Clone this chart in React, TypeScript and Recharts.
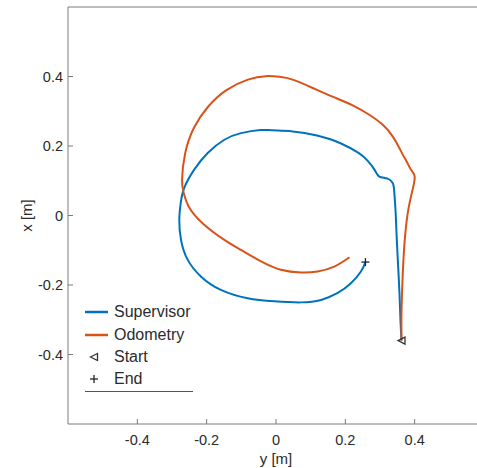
import React from "react";
import {
  ComposedChart,
  Line,
  Scatter,
  XAxis,
  YAxis,
  Legend,
  Label,
} from "recharts";

// horizontal axis is y [m], vertical axis is x [m]
const supervisorY = [
  0.362, 0.359, 0.356, 0.352, 0.348, 0.345, 0.341, 0.337, 0.322, 0.298, 0.284,
  0.262, 0.238, 0.186, 0.118, 0.048, -0.01, -0.045, -0.101, -0.149, -0.197,
  -0.236, -0.265, -0.275, -0.279, -0.274, -0.255, -0.216, -0.159, -0.082,
  -0.005, 0.072, 0.13, 0.178, 0.216, 0.245, 0.258,
];
const supervisorX = [
  -0.36, -0.3, -0.22, -0.14, -0.06, 0.01, 0.07, 0.093, 0.106, 0.112, 0.132,
  0.16, 0.18, 0.208, 0.23, 0.242, 0.245, 0.246, 0.237, 0.218, 0.18, 0.132,
  0.079, 0.035, -0.012, -0.07, -0.127, -0.176, -0.214, -0.238, -0.247, -0.25,
  -0.243, -0.223, -0.195, -0.161, -0.134,
];

const odometryY = [
  0.362, 0.362, 0.365, 0.37, 0.38, 0.394, 0.4, 0.39, 0.378, 0.367, 0.356, 0.337,
  0.308, 0.269, 0.221, 0.163, 0.106, 0.048, 0.01, -0.03, -0.081, -0.143, -0.196,
  -0.237, -0.262, -0.271, -0.266, -0.252, -0.212, -0.149, -0.101, -0.043, 0.014,
  0.072, 0.12, 0.168, 0.212,
];
const odometryX = [
  -0.36, -0.281, -0.185, -0.089, 0.007, 0.074, 0.112, 0.131, 0.153, 0.173, 0.194,
  0.227, 0.261, 0.29, 0.317, 0.342, 0.367, 0.391, 0.399, 0.401, 0.391, 0.361,
  0.313, 0.252, 0.179, 0.102, 0.064, 0.026, -0.022, -0.07, -0.099, -0.132,
  -0.156, -0.164, -0.161, -0.147, -0.12,
];

const startPoint = [{ h: 0.362, v: -0.36 }];
const endPoint = [{ h: 0.258, v: -0.134 }];

const ticks = [-0.4, -0.2, 0, 0.2, 0.4];
const legendNames = ["Supervisor", "Odometry", "Start", "End"];

const supervisor = supervisorY.map((h, i) => ({ h, v: supervisorX[i] }));
const odometry = odometryY.map((h, i) => ({ h, v: odometryX[i] }));

const BLUE = "#0072BD";
const ORANGE = "#D95319";
const AXIS = "#7a7a7a";
const TEXT = "#2b2b2b";
const FONT = '"Liberation Sans", Arial, sans-serif';

function BottomTick({ x, y, payload }: any) {
  return (
    <g>
      <line x1={x} x2={x} y1={y} y2={y - 5} stroke={AXIS} />
      <text x={x} y={y + 20.5} textAnchor="middle" fill={TEXT} fontSize={14.5} fontFamily={FONT}>
        {String(payload.value)}
      </text>
    </g>
  );
}

function TopTick({ x, y }: any) {
  return <line x1={x} x2={x} y1={y} y2={y + 5} stroke={AXIS} />;
}

function LeftTick({ x, y, payload }: any) {
  return (
    <g>
      <line x1={x} x2={x + 5} y1={y} y2={y} stroke={AXIS} />
      <text x={x - 5} y={y + 5} textAnchor="end" fill={TEXT} fontSize={14.5} fontFamily={FONT}>
        {String(payload.value)}
      </text>
    </g>
  );
}

function StartMarker({ cx, cy }: any) {
  return (
    <polygon
      points={`${cx - 3.5},${cy} ${cx + 3.5},${cy - 3.5} ${cx + 3.5},${cy + 3.5}`}
      fill="none"
      stroke="#333"
      strokeWidth={1.3}
    />
  );
}

function EndMarker({ cx, cy }: any) {
  return (
    <g stroke="#222" strokeWidth={1.3}>
      <line x1={cx - 4} x2={cx + 4} y1={cy} y2={cy} />
      <line x1={cx} x2={cx} y1={cy - 4} y2={cy + 4} />
    </g>
  );
}

function LegendBox() {
  const symbol = (name: string) => {
    if (name === "Supervisor" || name === "Odometry") {
      const c = name === "Supervisor" ? BLUE : ORANGE;
      return <line x1={0} x2={23} y1={11} y2={11} stroke={c} strokeWidth={2.5} />;
    }
    if (name === "Start") return <StartMarker cx={9} cy={11} />;
    return <EndMarker cx={9} cy={11} />;
  };
  return (
    <div style={{ width: 108, borderBottom: "1.5px solid #555", fontFamily: FONT }}>
      {legendNames.map((name) => (
        <div key={name} style={{ display: "flex", alignItems: "center", height: 22.4 }}>
          <svg width={29} height={22} style={{ flex: "none" }}>
            {symbol(name)}
          </svg>
          <span style={{ fontSize: 16, color: TEXT, lineHeight: "22px" }}>{name}</span>
        </div>
      ))}
    </div>
  );
}

export default function App() {
  return (
    <div
      style={{
        position: "absolute",
        left: 0,
        top: 0,
        width: 477,
        height: 468,
        overflow: "hidden",
        background: "#fff",
      }}
    >
      <ComposedChart
        width={500}
        height={468}
        margin={{ top: 6, right: 16, bottom: 43, left: 67 }}
      >
        <XAxis
          dataKey="h"
          type="number"
          domain={[-0.6, 0.6]}
          ticks={ticks}
          height={1}
          tickSize={0}
          tickMargin={0}
          tick={<BottomTick />}
          tickLine={false}
          axisLine={{ stroke: AXIS }}
          allowDataOverflow
          interval={0}
        >
          <Label
            content={({ viewBox }: any) => (
              <text
                x={viewBox.x + viewBox.width / 2}
                y={viewBox.y + 39.5}
                textAnchor="middle"
                fill={TEXT}
                fontSize={15}
                fontFamily={FONT}
              >
                y [m]
              </text>
            )}
          />
        </XAxis>
        <XAxis
          xAxisId="top"
          orientation="top"
          type="number"
          domain={[-0.6, 0.6]}
          ticks={ticks}
          height={1}
          tickSize={0}
          tickMargin={0}
          tick={<TopTick />}
          tickLine={false}
          axisLine={{ stroke: AXIS }}
          allowDataOverflow
          interval={0}
        />
        <YAxis
          dataKey="v"
          type="number"
          domain={[-0.6, 0.6]}
          ticks={ticks}
          width={1}
          tickSize={0}
          tickMargin={0}
          tick={<LeftTick />}
          tickLine={false}
          axisLine={{ stroke: AXIS }}
          allowDataOverflow
          interval={0}
        >
          <Label
            content={({ viewBox }: any) => {
              const cx = viewBox.x - 40.5;
              const cy = viewBox.y + viewBox.height / 2;
              return (
                <text
                  x={cx}
                  y={cy}
                  transform={`rotate(-90, ${cx}, ${cy})`}
                  textAnchor="middle"
                  dominantBaseline="central"
                  fill={TEXT}
                  fontSize={15}
                  fontFamily={FONT}
                >
                  x [m]
                </text>
              );
            }}
          />
        </YAxis>
        <Legend
          layout="vertical"
          align="center"
          verticalAlign="middle"
          content={<LegendBox />}
          wrapperStyle={{ left: 85, top: 301, width: 110 }}
        />
        <Line
          data={supervisor}
          dataKey="v"
          name="Supervisor"
          type="natural"
          stroke={BLUE}
          strokeWidth={2}
          dot={false}
          isAnimationActive={false}
        />
        <Line
          data={odometry}
          dataKey="v"
          name="Odometry"
          type="natural"
          stroke={ORANGE}
          strokeWidth={2}
          dot={false}
          isAnimationActive={false}
        />
        <Scatter
          data={startPoint}
          dataKey="v"
          name="Start"
          shape={<StartMarker />}
          isAnimationActive={false}
        />
        <Scatter
          data={endPoint}
          dataKey="v"
          name="End"
          shape={<EndMarker />}
          isAnimationActive={false}
        />
      </ComposedChart>
    </div>
  );
}
